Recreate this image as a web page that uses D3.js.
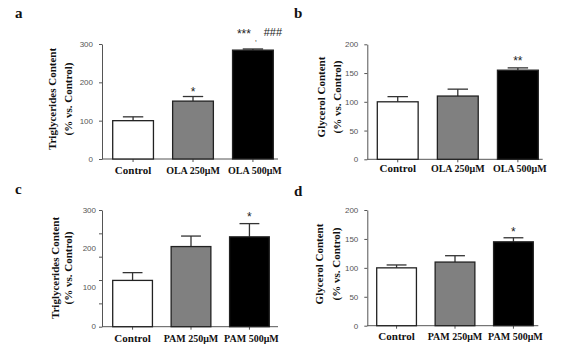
<!DOCTYPE html>
<html><head><meta charset="utf-8">
<script src="https://cdn.jsdelivr.net/npm/d3@7"></script>
<style>
html,body{margin:0;padding:0;background:#fff;}
svg{display:block;}
</style></head>
<body>
<svg id="chart" width="583" height="351"></svg>
<script>
// ---- data ----
const categoriesOLA = ["Control", "OLA 250\u03bcM", "OLA 500\u03bcM"];
const categoriesPAM = ["Control", "PAM 250\u03bcM", "PAM 500\u03bcM"];
const trigOLA = [100, 151, 284];
const trigOLAErr = [10, 12, 3];
const glyOLA = [100, 110, 155];
const glyOLAErr = [9, 12, 4];
const trigPAM = [119, 206, 231];
const trigPAMErr = [20, 27, 34];
const glyPAM = [100, 110, 145];
const glyPAMErr = [5, 11, 7];
const trigTicks = [0, 100, 200, 300];
const trigTicksC = [0, 60, 120, 180, 240, 300];
const glyTicks = [0, 50, 100, 150, 200];
const sigTrigOLA = ["", "*", "***"];
const sigGlyOLA = ["", "", "**"];
const sigTrigPAM = ["", "", "*"];
const sigGlyPAM = ["", "", "*"];
const fills = ["#ffffff", "#808080", "#000000"];

const svg = d3.select("#chart");
const serif = "'Liberation Serif','DejaVu Serif',serif";
const sans = "'Liberation Sans','DejaVu Sans',sans-serif";

function panel(cfg) {
  const g = svg.append("g");
  const y = d3.scaleLinear().domain([0, cfg.max]).range([cfg.y0, cfg.yTop]);
  const x = d3.scaleBand().domain(cfg.cats).range(cfg.barRange).paddingInner(0.32).paddingOuter(0);

  // y axis
  const yAxis = d3.axisLeft(y).tickValues(cfg.ticks).tickSize(3).tickSizeOuter(0)
    .tickFormat(cfg.labelTicks ? "" : d3.format("d"));
  const ya = g.append("g").attr("transform", `translate(${cfg.x0},0)`).call(yAxis);
  ya.select(".domain").attr("stroke", "#555").attr("stroke-width", 1);
  ya.selectAll(".tick line").attr("stroke", "#555");
  ya.selectAll(".tick text").attr("fill", "#555").attr("font-family", sans).attr("font-size", 8).attr("dx", -3);
  if (cfg.labelTicks) {
    g.selectAll("text.ylab").data(cfg.labelTicks).enter().append("text")
      .attr("x", cfg.x0 - 6).attr("y", d => y(d)).attr("dy", "0.32em")
      .attr("text-anchor", "end").attr("fill", "#555")
      .attr("font-family", sans).attr("font-size", 8).text(d => d);
  }

  // x axis
  const xAxis = d3.axisBottom(x).tickSize(3).tickSizeOuter(0).tickFormat("");
  const xa = g.append("g").attr("transform", `translate(0,${cfg.y0})`).call(xAxis);
  xa.select(".domain").remove();
  xa.selectAll(".tick line").attr("stroke", "#555");
  g.append("line").attr("x1", cfg.x0).attr("x2", cfg.xEnd).attr("y1", cfg.y0).attr("y2", cfg.y0)
    .attr("stroke", "#555").attr("stroke-width", 1);

  // category labels
  g.selectAll("text.cat").data(cfg.cats).enter().append("text")
    .attr("x", (d, i) => x(d) + x.bandwidth() / 2 + (i === 2 ? 2 : 0)).attr("y", cfg.labY)
    .attr("text-anchor", "middle").attr("font-family", serif)
    .attr("font-weight", "bold").attr("font-size", (d, i) => i === 0 ? 11 : 10)
    .attr("fill", "#111").text(d => d);

  // error bars
  const eb = g.selectAll("g.err").data(cfg.vals).enter().append("g");
  eb.append("line")
    .attr("x1", (d, i) => x(cfg.cats[i]) + x.bandwidth() / 2)
    .attr("x2", (d, i) => x(cfg.cats[i]) + x.bandwidth() / 2)
    .attr("y1", d => y(d)).attr("y2", (d, i) => y(d + cfg.errs[i]))
    .attr("stroke", "#333").attr("stroke-width", 1.3);
  eb.append("line")
    .attr("x1", (d, i) => x(cfg.cats[i]) + x.bandwidth() * 0.25)
    .attr("x2", (d, i) => x(cfg.cats[i]) + x.bandwidth() * 0.75)
    .attr("y1", (d, i) => y(d + cfg.errs[i])).attr("y2", (d, i) => y(d + cfg.errs[i]))
    .attr("stroke", "#333").attr("stroke-width", 1.3);

  // bars
  g.selectAll("rect.bar").data(cfg.vals).enter().append("rect")
    .attr("x", (d, i) => x(cfg.cats[i])).attr("width", x.bandwidth())
    .attr("y", d => y(d)).attr("height", d => cfg.y0 - y(d))
    .attr("fill", (d, i) => fills[i]).attr("stroke", "#222").attr("stroke-width", 1.3);

  // significance
  g.selectAll("text.sig").data(cfg.sig).enter().append("text")
    .attr("x", (d, i) => x(cfg.cats[i]) + x.bandwidth() / 2 + (cfg.sigDx ? cfg.sigDx[i] : 0))
    .attr("y", (d, i) => y(cfg.vals[i] + cfg.errs[i]) - cfg.sigGap[i])
    .attr("text-anchor", "middle").attr("font-family", sans).attr("font-size", 12)
    .attr("fill", "#222").text(d => d);
  if (cfg.extra) cfg.extra(g, x, y);

  // y title
  const tt = g.append("g").attr("font-family", serif).attr("font-weight", "bold")
    .attr("font-size", 11).attr("fill", "#111");
  tt.append("text").attr("transform", `translate(${cfg.t1x},${cfg.tY}) rotate(-90)`)
    .attr("text-anchor", "middle").attr("dy", "0.35em").text(cfg.title1);
  tt.append("text").attr("transform", `translate(${cfg.t2x},${cfg.tY}) rotate(-90)`)
    .attr("text-anchor", "middle").attr("dy", "0.35em").text("(% vs. Control)");

  // panel letter
  g.append("text").attr("x", cfg.lx).attr("y", cfg.ly).attr("font-family", serif)
    .attr("font-weight", "bold").attr("font-size", 15).attr("fill", "#111").text(cfg.letter);
}

panel({ cats: categoriesOLA, vals: trigOLA, errs: trigOLAErr, max: 300, ticks: trigTicks,
  x0: 102, y0: 159, yTop: 44, barRange: [112.7, 273.3], xEnd: 278, labY: 174,
  sig: sigTrigOLA, sigDx: [0, 0, -9], sigGap: [0, 1, 11],
  extra: (g, x, y) => {
    const cx = x(categoriesOLA[2]) + x.bandwidth() / 2;
    g.append("text").attr("x", cx + 3).attr("y", y(trigOLA[2] + trigOLAErr[2]) - 8)
      .attr("text-anchor", "middle").attr("font-family", sans).attr("font-size", 8).attr("fill", "#222").text(",");
    g.append("text").attr("x", cx + 20).attr("y", y(trigOLA[2] + trigOLAErr[2]) - 13)
      .attr("text-anchor", "middle").attr("font-family", sans).attr("font-size", 11).attr("fill", "#222").text("###");
  },
  title1: "Triglycerides Content", t1x: 52, t2x: 68, tY: 99, letter: "a", lx: 15, ly: 18 });

panel({ cats: categoriesOLA, vals: glyOLA, errs: glyOLAErr, max: 200, ticks: glyTicks,
  x0: 367.3, y0: 159.3, yTop: 44.3, barRange: [377.3, 538.3], xEnd: 542.7, labY: 172,
  sig: sigGlyOLA, sigGap: [0, 0, 3],
  title1: "Glycerol Content", t1x: 320.7, t2x: 336.7, tY: 97, letter: "b", lx: 294, ly: 18 });

panel({ cats: categoriesPAM, vals: trigPAM, errs: trigPAMErr, max: 300, ticks: trigTicksC, labelTicks: trigTicks,
  x0: 102, y0: 326.7, yTop: 210, barRange: [112.7, 269.3], xEnd: 278, labY: 342,
  sig: sigTrigPAM, sigGap: [0, 0, 3],
  title1: "Triglycerides Content", t1x: 55, t2x: 68.5, tY: 268, letter: "c", lx: 15, ly: 194 });

panel({ cats: categoriesPAM, vals: glyPAM, errs: glyPAMErr, max: 200, ticks: glyTicks,
  x0: 367.3, y0: 325.7, yTop: 210, barRange: [376.7, 533.3], xEnd: 538.3, labY: 340,
  sig: sigGlyPAM, sigGap: [0, 0, 2],
  title1: "Glycerol Content", t1x: 319.5, t2x: 336.5, tY: 264, letter: "d", lx: 294, ly: 196 });
</script>
</body></html>
